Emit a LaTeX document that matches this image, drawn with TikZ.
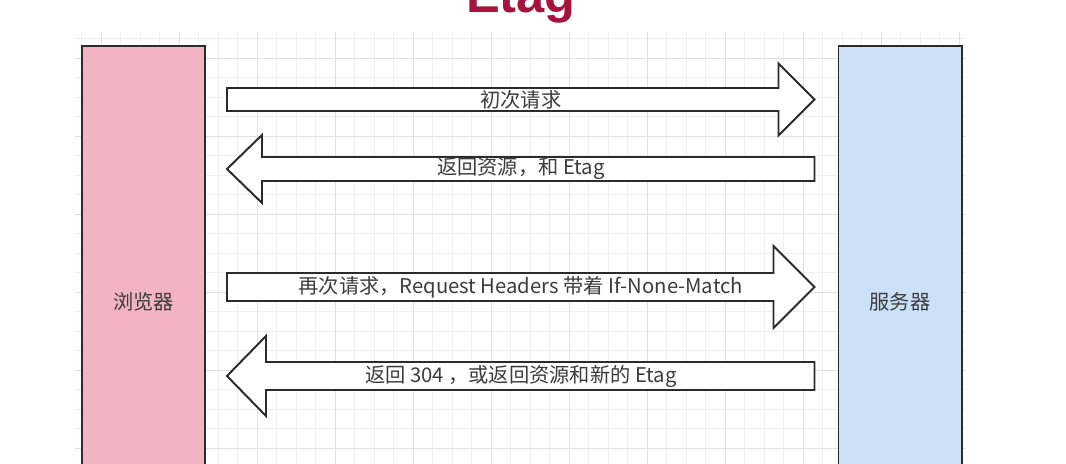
\documentclass[tikz,border=0pt]{standalone}
\usepackage{fontspec}
\usepackage{xcolor}
\usetikzlibrary{calc}
\setmainfont{Liberation Sans}
\newfontfamily\cjk{Noto Sans CJK SC}
\definecolor{etagRed}{HTML}{A8123F}
\definecolor{hostPink}{HTML}{F2B4C3}
\definecolor{hostBlue}{HTML}{CCE0F8}
\definecolor{lineDark}{HTML}{2B2B2B}
\definecolor{textGrey}{HTML}{3C3C3C}
\definecolor{gridMinor}{HTML}{F0F0F0}
\definecolor{gridMajor}{HTML}{E0E0E0}
\tikzset{
  hostbox/.style={rectangle,draw=lineDark,line width=1.4pt,
    minimum width=3.075cm,minimum height=12.8cm,inner sep=0pt,
    font=\cjk\fontsize{14.4}{16}\selectfont,text=textGrey},
  blockarrow/.style={draw=lineDark,line width=1.4pt,fill=white,line join=miter},
  msg/.style={font=\cjk\fontsize{14.4}{16}\selectfont,text=textGrey,inner sep=0pt},
  gridminor/.style={draw=gridMinor,line width=0.5pt},
  gridmajor/.style={draw=gridMajor,line width=0.6pt}
}
% #1 tail, #2 tip, #3 half shaft, #4 half head, #5 head length
\newcommand{\rightblock}[5]{%
  \draw[blockarrow] ($(#1)+(0,-#3)$) -- ($(#2)+(-#5,-#3)$) -- ($(#2)+(-#5,-#4)$)
    -- (#2) -- ($(#2)+(-#5,#4)$) -- ($(#2)+(-#5,#3)$) -- ($(#1)+(0,#3)$) -- cycle;}
\newcommand{\leftblock}[5]{%
  \draw[blockarrow] ($(#1)+(0,-#3)$) -- ($(#2)+(#5,-#3)$) -- ($(#2)+(#5,-#4)$)
    -- (#2) -- ($(#2)+(#5,#4)$) -- ($(#2)+(#5,#3)$) -- ($(#1)+(0,#3)$) -- cycle;}

\begin{document}
\begin{tikzpicture}[x=0.025cm, y=-0.025cm]
\useasboundingbox (0,0) rectangle (1066,464);
\clip (0,0) rectangle (1066,464);
\fill[white] (0,0) rectangle (1066,464);

% background grid
\foreach \k in {0,...,45}
  \draw[gridminor] (81.5+\k*19.5,32) -- (81.5+\k*19.5,464);
\foreach \k in {0,...,22}
  \draw[gridminor] (75,38.5+\k*19.5) -- (966,38.5+\k*19.5);
\foreach \k in {0,...,11}
  \draw[gridmajor] (101+\k*78,32) -- (101+\k*78,464);
\foreach \k in {0,...,5}
  \draw[gridmajor] (75,58+\k*78) -- (966,58+\k*78);

\node[font=\bfseries\fontsize{36}{40}\selectfont,text=etagRed,anchor=base] (title) at (521,13) {Etag};

\node[hostbox,fill=hostPink] (browser) at (143.5,302) {浏览器};
\node[hostbox,fill=hostBlue] (server) at (900,302) {服务器};

\path (browser.east) ++(21,0) coordinate (bx);
\path (server.west) ++(-23,0) coordinate (sx);
\coordinate (y1) at (0,99.5);
\coordinate (y2) at (0,169);
\coordinate (y3) at (0,287);
\coordinate (y4) at (0,376);

\rightblock{bx |- y1}{sx |- y1}{11.5}{36}{36}
\leftblock{sx |- y2}{bx |- y2}{12}{34}{35}
\rightblock{bx |- y3}{sx |- y3}{14}{41}{41}
\leftblock{sx |- y4}{bx |- y4}{14}{40}{39}

\node[msg] (m1) at ($(bx |- y1)!0.5!(sx |- y1)$) {初次请求};
\node[msg] (m2) at ($(bx |- y2)!0.5!(sx |- y2)$) {返回资源，和 Etag};
\node[msg] (m3) at ($(bx |- y3)!0.5!(sx |- y3)$) {再次请求，Request Headers 带着 If-None-Match};
\node[msg] (m4) at ($(bx |- y4)!0.5!(sx |- y4)$) {返回 304 ，或返回资源和新的 Etag};
\end{tikzpicture}
\end{document}
